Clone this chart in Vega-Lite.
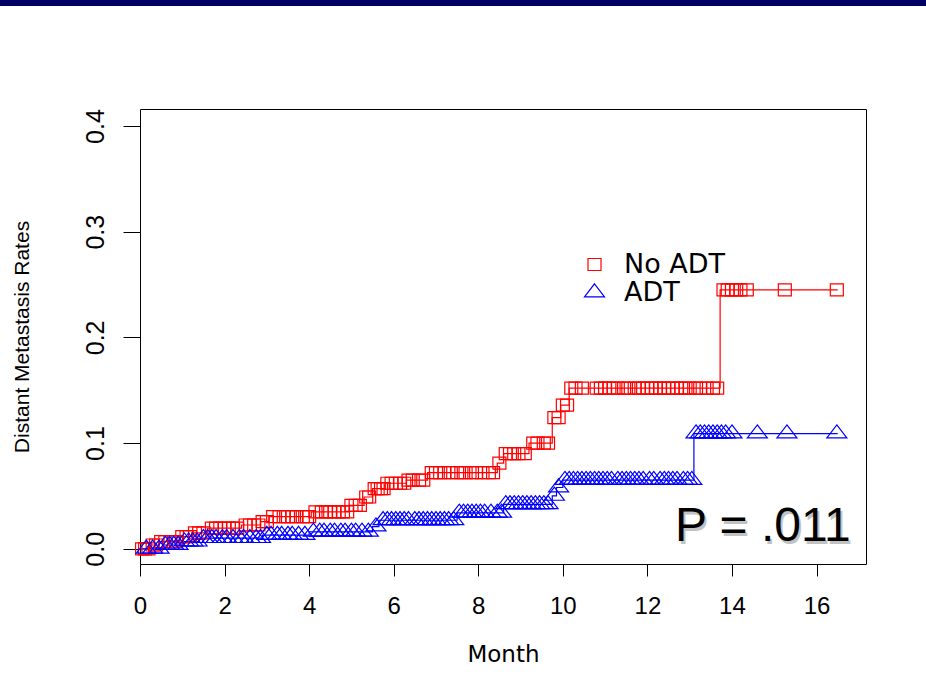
{
  "$schema": "https://vega.github.io/schema/vega-lite/v6.json",
  "width": 726,
  "height": 455,
  "autosize": {"type": "none"},
  "padding": {"left": 140, "top": 109, "right": 60, "bottom": 127},
  "background": "white",
  "config": {
    "view": {"stroke": "#000", "strokeWidth": 1},
    "legend": {"orient": "none", "legendX": 441, "legendY": 143, "padding": 0, "title": null, "labelFont": "DejaVu Sans", "labelFontSize": 27, "labelColor": "#000", "labelOffset": 16, "clipHeight": 25, "rowPadding": 0, "symbolSize": 400, "symbolStrokeWidth": 1.2}
  },
  "datasets": {
    "curve": [
      {"group": "No ADT", "month": 0, "rate": 0},
      {"group": "No ADT", "month": 0.25, "rate": 0.0036},
      {"group": "No ADT", "month": 0.45, "rate": 0.0067},
      {"group": "No ADT", "month": 0.93, "rate": 0.0115},
      {"group": "No ADT", "month": 1.22, "rate": 0.015},
      {"group": "No ADT", "month": 1.6, "rate": 0.0196},
      {"group": "No ADT", "month": 2.4, "rate": 0.0225},
      {"group": "No ADT", "month": 2.85, "rate": 0.0257},
      {"group": "No ADT", "month": 3.05, "rate": 0.0304},
      {"group": "No ADT", "month": 4.05, "rate": 0.035},
      {"group": "No ADT", "month": 4.95, "rate": 0.041},
      {"group": "No ADT", "month": 5.3, "rate": 0.049},
      {"group": "No ADT", "month": 5.5, "rate": 0.057},
      {"group": "No ADT", "month": 5.8, "rate": 0.062},
      {"group": "No ADT", "month": 6.3, "rate": 0.065},
      {"group": "No ADT", "month": 6.8, "rate": 0.072},
      {"group": "No ADT", "month": 8.45, "rate": 0.081},
      {"group": "No ADT", "month": 8.6, "rate": 0.09},
      {"group": "No ADT", "month": 9.2, "rate": 0.1},
      {"group": "No ADT", "month": 9.75, "rate": 0.124},
      {"group": "No ADT", "month": 9.95, "rate": 0.136},
      {"group": "No ADT", "month": 10.15, "rate": 0.152},
      {"group": "No ADT", "month": 13.72, "rate": 0.245},
      {"group": "No ADT", "month": 16.5, "rate": 0.245},
      {"group": "ADT", "month": 0, "rate": 0},
      {"group": "ADT", "month": 0.55, "rate": 0.0036},
      {"group": "ADT", "month": 1.0, "rate": 0.0067},
      {"group": "ADT", "month": 1.4, "rate": 0.010},
      {"group": "ADT", "month": 2.9, "rate": 0.013},
      {"group": "ADT", "month": 4.0, "rate": 0.016},
      {"group": "ADT", "month": 5.5, "rate": 0.021},
      {"group": "ADT", "month": 5.65, "rate": 0.027},
      {"group": "ADT", "month": 7.5, "rate": 0.034},
      {"group": "ADT", "month": 8.6, "rate": 0.042},
      {"group": "ADT", "month": 9.75, "rate": 0.05},
      {"group": "ADT", "month": 9.85, "rate": 0.058},
      {"group": "ADT", "month": 10.0, "rate": 0.065},
      {"group": "ADT", "month": 13.1, "rate": 0.109},
      {"group": "ADT", "month": 16.5, "rate": 0.109}
    ],
    "censor": [
      {"group": "No ADT", "month": 0.05, "rate": 0},
      {"group": "No ADT", "month": 0.12, "rate": 0},
      {"group": "No ADT", "month": 0.2, "rate": 0},
      {"group": "No ADT", "month": 0.3, "rate": 0.0036},
      {"group": "No ADT", "month": 0.38, "rate": 0.0036},
      {"group": "No ADT", "month": 0.5, "rate": 0.0067},
      {"group": "No ADT", "month": 0.6, "rate": 0.0067},
      {"group": "No ADT", "month": 0.72, "rate": 0.0067},
      {"group": "No ADT", "month": 0.85, "rate": 0.0067},
      {"group": "No ADT", "month": 1.0, "rate": 0.0115},
      {"group": "No ADT", "month": 1.1, "rate": 0.0115},
      {"group": "No ADT", "month": 1.18, "rate": 0.0115},
      {"group": "No ADT", "month": 1.3, "rate": 0.015},
      {"group": "No ADT", "month": 1.4, "rate": 0.015},
      {"group": "No ADT", "month": 1.5, "rate": 0.015},
      {"group": "No ADT", "month": 1.7, "rate": 0.0196},
      {"group": "No ADT", "month": 1.8, "rate": 0.0196},
      {"group": "No ADT", "month": 1.9, "rate": 0.0196},
      {"group": "No ADT", "month": 2.0, "rate": 0.0196},
      {"group": "No ADT", "month": 2.1, "rate": 0.0196},
      {"group": "No ADT", "month": 2.2, "rate": 0.0196},
      {"group": "No ADT", "month": 2.3, "rate": 0.0196},
      {"group": "No ADT", "month": 2.5, "rate": 0.0225},
      {"group": "No ADT", "month": 2.6, "rate": 0.0225},
      {"group": "No ADT", "month": 2.7, "rate": 0.0225},
      {"group": "No ADT", "month": 2.8, "rate": 0.0225},
      {"group": "No ADT", "month": 2.9, "rate": 0.0257},
      {"group": "No ADT", "month": 3.0, "rate": 0.0257},
      {"group": "No ADT", "month": 3.15, "rate": 0.0304},
      {"group": "No ADT", "month": 3.3, "rate": 0.0304},
      {"group": "No ADT", "month": 3.4, "rate": 0.0304},
      {"group": "No ADT", "month": 3.5, "rate": 0.0304},
      {"group": "No ADT", "month": 3.6, "rate": 0.0304},
      {"group": "No ADT", "month": 3.7, "rate": 0.0304},
      {"group": "No ADT", "month": 3.85, "rate": 0.0304},
      {"group": "No ADT", "month": 3.95, "rate": 0.0304},
      {"group": "No ADT", "month": 4.0, "rate": 0.0304},
      {"group": "No ADT", "month": 4.15, "rate": 0.035},
      {"group": "No ADT", "month": 4.3, "rate": 0.035},
      {"group": "No ADT", "month": 4.4, "rate": 0.035},
      {"group": "No ADT", "month": 4.5, "rate": 0.035},
      {"group": "No ADT", "month": 4.6, "rate": 0.035},
      {"group": "No ADT", "month": 4.7, "rate": 0.035},
      {"group": "No ADT", "month": 4.8, "rate": 0.035},
      {"group": "No ADT", "month": 4.9, "rate": 0.035},
      {"group": "No ADT", "month": 5.0, "rate": 0.041},
      {"group": "No ADT", "month": 5.1, "rate": 0.041},
      {"group": "No ADT", "month": 5.2, "rate": 0.041},
      {"group": "No ADT", "month": 5.35, "rate": 0.049},
      {"group": "No ADT", "month": 5.42, "rate": 0.049},
      {"group": "No ADT", "month": 5.55, "rate": 0.057},
      {"group": "No ADT", "month": 5.62, "rate": 0.057},
      {"group": "No ADT", "month": 5.7, "rate": 0.057},
      {"group": "No ADT", "month": 5.76, "rate": 0.057},
      {"group": "No ADT", "month": 5.85, "rate": 0.062},
      {"group": "No ADT", "month": 5.95, "rate": 0.062},
      {"group": "No ADT", "month": 6.05, "rate": 0.062},
      {"group": "No ADT", "month": 6.15, "rate": 0.062},
      {"group": "No ADT", "month": 6.25, "rate": 0.062},
      {"group": "No ADT", "month": 6.35, "rate": 0.065},
      {"group": "No ADT", "month": 6.45, "rate": 0.065},
      {"group": "No ADT", "month": 6.6, "rate": 0.065},
      {"group": "No ADT", "month": 6.7, "rate": 0.065},
      {"group": "No ADT", "month": 6.9, "rate": 0.072},
      {"group": "No ADT", "month": 7.0, "rate": 0.072},
      {"group": "No ADT", "month": 7.1, "rate": 0.072},
      {"group": "No ADT", "month": 7.2, "rate": 0.072},
      {"group": "No ADT", "month": 7.35, "rate": 0.072},
      {"group": "No ADT", "month": 7.5, "rate": 0.072},
      {"group": "No ADT", "month": 7.6, "rate": 0.072},
      {"group": "No ADT", "month": 7.7, "rate": 0.072},
      {"group": "No ADT", "month": 7.85, "rate": 0.072},
      {"group": "No ADT", "month": 7.95, "rate": 0.072},
      {"group": "No ADT", "month": 8.1, "rate": 0.072},
      {"group": "No ADT", "month": 8.25, "rate": 0.072},
      {"group": "No ADT", "month": 8.35, "rate": 0.072},
      {"group": "No ADT", "month": 8.5, "rate": 0.081},
      {"group": "No ADT", "month": 8.65, "rate": 0.09},
      {"group": "No ADT", "month": 8.75, "rate": 0.09},
      {"group": "No ADT", "month": 8.85, "rate": 0.09},
      {"group": "No ADT", "month": 8.95, "rate": 0.09},
      {"group": "No ADT", "month": 9.1, "rate": 0.09},
      {"group": "No ADT", "month": 9.3, "rate": 0.1},
      {"group": "No ADT", "month": 9.4, "rate": 0.1},
      {"group": "No ADT", "month": 9.55, "rate": 0.1},
      {"group": "No ADT", "month": 9.65, "rate": 0.1},
      {"group": "No ADT", "month": 9.8, "rate": 0.124},
      {"group": "No ADT", "month": 9.9, "rate": 0.124},
      {"group": "No ADT", "month": 10.0, "rate": 0.136},
      {"group": "No ADT", "month": 10.1, "rate": 0.136},
      {"group": "No ADT", "month": 10.2, "rate": 0.152},
      {"group": "No ADT", "month": 10.3, "rate": 0.152},
      {"group": "No ADT", "month": 10.45, "rate": 0.152},
      {"group": "No ADT", "month": 10.8, "rate": 0.152},
      {"group": "No ADT", "month": 10.9, "rate": 0.152},
      {"group": "No ADT", "month": 11.0, "rate": 0.152},
      {"group": "No ADT", "month": 11.1, "rate": 0.152},
      {"group": "No ADT", "month": 11.2, "rate": 0.152},
      {"group": "No ADT", "month": 11.3, "rate": 0.152},
      {"group": "No ADT", "month": 11.45, "rate": 0.152},
      {"group": "No ADT", "month": 11.55, "rate": 0.152},
      {"group": "No ADT", "month": 11.7, "rate": 0.152},
      {"group": "No ADT", "month": 11.8, "rate": 0.152},
      {"group": "No ADT", "month": 11.9, "rate": 0.152},
      {"group": "No ADT", "month": 12.0, "rate": 0.152},
      {"group": "No ADT", "month": 12.1, "rate": 0.152},
      {"group": "No ADT", "month": 12.2, "rate": 0.152},
      {"group": "No ADT", "month": 12.3, "rate": 0.152},
      {"group": "No ADT", "month": 12.4, "rate": 0.152},
      {"group": "No ADT", "month": 12.5, "rate": 0.152},
      {"group": "No ADT", "month": 12.6, "rate": 0.152},
      {"group": "No ADT", "month": 12.7, "rate": 0.152},
      {"group": "No ADT", "month": 12.8, "rate": 0.152},
      {"group": "No ADT", "month": 12.9, "rate": 0.152},
      {"group": "No ADT", "month": 13.0, "rate": 0.152},
      {"group": "No ADT", "month": 13.15, "rate": 0.152},
      {"group": "No ADT", "month": 13.25, "rate": 0.152},
      {"group": "No ADT", "month": 13.4, "rate": 0.152},
      {"group": "No ADT", "month": 13.55, "rate": 0.152},
      {"group": "No ADT", "month": 13.65, "rate": 0.152},
      {"group": "No ADT", "month": 13.8, "rate": 0.245},
      {"group": "No ADT", "month": 13.9, "rate": 0.245},
      {"group": "No ADT", "month": 14.0, "rate": 0.245},
      {"group": "No ADT", "month": 14.1, "rate": 0.245},
      {"group": "No ADT", "month": 14.2, "rate": 0.245},
      {"group": "No ADT", "month": 14.35, "rate": 0.245},
      {"group": "No ADT", "month": 15.25, "rate": 0.245},
      {"group": "No ADT", "month": 16.48, "rate": 0.245},
      {"group": "ADT", "month": 0.15, "rate": 0},
      {"group": "ADT", "month": 0.3, "rate": 0},
      {"group": "ADT", "month": 0.45, "rate": 0},
      {"group": "ADT", "month": 0.6, "rate": 0.0036},
      {"group": "ADT", "month": 0.7, "rate": 0.0036},
      {"group": "ADT", "month": 0.8, "rate": 0.0036},
      {"group": "ADT", "month": 0.9, "rate": 0.0036},
      {"group": "ADT", "month": 1.05, "rate": 0.0067},
      {"group": "ADT", "month": 1.15, "rate": 0.0067},
      {"group": "ADT", "month": 1.25, "rate": 0.0067},
      {"group": "ADT", "month": 1.35, "rate": 0.0067},
      {"group": "ADT", "month": 1.5, "rate": 0.010},
      {"group": "ADT", "month": 1.6, "rate": 0.010},
      {"group": "ADT", "month": 1.7, "rate": 0.010},
      {"group": "ADT", "month": 1.8, "rate": 0.010},
      {"group": "ADT", "month": 1.95, "rate": 0.010},
      {"group": "ADT", "month": 2.05, "rate": 0.010},
      {"group": "ADT", "month": 2.2, "rate": 0.010},
      {"group": "ADT", "month": 2.35, "rate": 0.010},
      {"group": "ADT", "month": 2.45, "rate": 0.010},
      {"group": "ADT", "month": 2.6, "rate": 0.010},
      {"group": "ADT", "month": 2.75, "rate": 0.010},
      {"group": "ADT", "month": 2.85, "rate": 0.010},
      {"group": "ADT", "month": 3.0, "rate": 0.013},
      {"group": "ADT", "month": 3.1, "rate": 0.013},
      {"group": "ADT", "month": 3.25, "rate": 0.013},
      {"group": "ADT", "month": 3.35, "rate": 0.013},
      {"group": "ADT", "month": 3.5, "rate": 0.013},
      {"group": "ADT", "month": 3.6, "rate": 0.013},
      {"group": "ADT", "month": 3.75, "rate": 0.013},
      {"group": "ADT", "month": 3.9, "rate": 0.013},
      {"group": "ADT", "month": 4.1, "rate": 0.016},
      {"group": "ADT", "month": 4.25, "rate": 0.016},
      {"group": "ADT", "month": 4.35, "rate": 0.016},
      {"group": "ADT", "month": 4.5, "rate": 0.016},
      {"group": "ADT", "month": 4.6, "rate": 0.016},
      {"group": "ADT", "month": 4.75, "rate": 0.016},
      {"group": "ADT", "month": 4.85, "rate": 0.016},
      {"group": "ADT", "month": 5.0, "rate": 0.016},
      {"group": "ADT", "month": 5.1, "rate": 0.016},
      {"group": "ADT", "month": 5.25, "rate": 0.016},
      {"group": "ADT", "month": 5.4, "rate": 0.016},
      {"group": "ADT", "month": 5.58, "rate": 0.021},
      {"group": "ADT", "month": 5.75, "rate": 0.027},
      {"group": "ADT", "month": 5.85, "rate": 0.027},
      {"group": "ADT", "month": 5.95, "rate": 0.027},
      {"group": "ADT", "month": 6.05, "rate": 0.027},
      {"group": "ADT", "month": 6.15, "rate": 0.027},
      {"group": "ADT", "month": 6.25, "rate": 0.027},
      {"group": "ADT", "month": 6.35, "rate": 0.027},
      {"group": "ADT", "month": 6.5, "rate": 0.027},
      {"group": "ADT", "month": 6.6, "rate": 0.027},
      {"group": "ADT", "month": 6.7, "rate": 0.027},
      {"group": "ADT", "month": 6.8, "rate": 0.027},
      {"group": "ADT", "month": 6.9, "rate": 0.027},
      {"group": "ADT", "month": 7.0, "rate": 0.027},
      {"group": "ADT", "month": 7.1, "rate": 0.027},
      {"group": "ADT", "month": 7.2, "rate": 0.027},
      {"group": "ADT", "month": 7.3, "rate": 0.027},
      {"group": "ADT", "month": 7.42, "rate": 0.027},
      {"group": "ADT", "month": 7.55, "rate": 0.034},
      {"group": "ADT", "month": 7.65, "rate": 0.034},
      {"group": "ADT", "month": 7.75, "rate": 0.034},
      {"group": "ADT", "month": 7.85, "rate": 0.034},
      {"group": "ADT", "month": 7.95, "rate": 0.034},
      {"group": "ADT", "month": 8.05, "rate": 0.034},
      {"group": "ADT", "month": 8.15, "rate": 0.034},
      {"group": "ADT", "month": 8.3, "rate": 0.034},
      {"group": "ADT", "month": 8.45, "rate": 0.034},
      {"group": "ADT", "month": 8.55, "rate": 0.034},
      {"group": "ADT", "month": 8.65, "rate": 0.042},
      {"group": "ADT", "month": 8.75, "rate": 0.042},
      {"group": "ADT", "month": 8.85, "rate": 0.042},
      {"group": "ADT", "month": 8.95, "rate": 0.042},
      {"group": "ADT", "month": 9.05, "rate": 0.042},
      {"group": "ADT", "month": 9.15, "rate": 0.042},
      {"group": "ADT", "month": 9.25, "rate": 0.042},
      {"group": "ADT", "month": 9.35, "rate": 0.042},
      {"group": "ADT", "month": 9.45, "rate": 0.042},
      {"group": "ADT", "month": 9.55, "rate": 0.042},
      {"group": "ADT", "month": 9.65, "rate": 0.042},
      {"group": "ADT", "month": 9.8, "rate": 0.05},
      {"group": "ADT", "month": 9.9, "rate": 0.058},
      {"group": "ADT", "month": 10.05, "rate": 0.065},
      {"group": "ADT", "month": 10.15, "rate": 0.065},
      {"group": "ADT", "month": 10.25, "rate": 0.065},
      {"group": "ADT", "month": 10.35, "rate": 0.065},
      {"group": "ADT", "month": 10.45, "rate": 0.065},
      {"group": "ADT", "month": 10.55, "rate": 0.065},
      {"group": "ADT", "month": 10.65, "rate": 0.065},
      {"group": "ADT", "month": 10.75, "rate": 0.065},
      {"group": "ADT", "month": 10.85, "rate": 0.065},
      {"group": "ADT", "month": 10.95, "rate": 0.065},
      {"group": "ADT", "month": 11.05, "rate": 0.065},
      {"group": "ADT", "month": 11.15, "rate": 0.065},
      {"group": "ADT", "month": 11.3, "rate": 0.065},
      {"group": "ADT", "month": 11.4, "rate": 0.065},
      {"group": "ADT", "month": 11.5, "rate": 0.065},
      {"group": "ADT", "month": 11.6, "rate": 0.065},
      {"group": "ADT", "month": 11.7, "rate": 0.065},
      {"group": "ADT", "month": 11.8, "rate": 0.065},
      {"group": "ADT", "month": 11.9, "rate": 0.065},
      {"group": "ADT", "month": 12.05, "rate": 0.065},
      {"group": "ADT", "month": 12.15, "rate": 0.065},
      {"group": "ADT", "month": 12.3, "rate": 0.065},
      {"group": "ADT", "month": 12.4, "rate": 0.065},
      {"group": "ADT", "month": 12.5, "rate": 0.065},
      {"group": "ADT", "month": 12.6, "rate": 0.065},
      {"group": "ADT", "month": 12.7, "rate": 0.065},
      {"group": "ADT", "month": 12.85, "rate": 0.065},
      {"group": "ADT", "month": 12.95, "rate": 0.065},
      {"group": "ADT", "month": 13.05, "rate": 0.065},
      {"group": "ADT", "month": 13.15, "rate": 0.109},
      {"group": "ADT", "month": 13.25, "rate": 0.109},
      {"group": "ADT", "month": 13.35, "rate": 0.109},
      {"group": "ADT", "month": 13.45, "rate": 0.109},
      {"group": "ADT", "month": 13.55, "rate": 0.109},
      {"group": "ADT", "month": 13.65, "rate": 0.109},
      {"group": "ADT", "month": 13.75, "rate": 0.109},
      {"group": "ADT", "month": 13.85, "rate": 0.109},
      {"group": "ADT", "month": 14.0, "rate": 0.109},
      {"group": "ADT", "month": 14.6, "rate": 0.109},
      {"group": "ADT", "month": 15.3, "rate": 0.109},
      {"group": "ADT", "month": 16.48, "rate": 0.109}
    ],
    "annotation": [
      {"label": "P = .011", "month": 16.81, "rate": 0.0075}
    ],
    "banner": [
      {"month": -5, "month2": 20, "rate": 0.5136, "rate2": 0.6}
    ]
  },
  "layer": [
    {
      "data": {"name": "curve"},
      "mark": {"type": "line", "interpolate": "step-after", "strokeWidth": 1.2},
      "encoding": {
        "x": {
          "field": "month", "type": "quantitative",
          "scale": {"domain": [0, 17.17], "nice": false, "zero": false},
          "axis": {
            "values": [0, 2, 4, 6, 8, 10, 12, 14, 16], "grid": false, "domain": false,
            "tickSize": 12, "tickColor": "#000", "labelFont": "Liberation Sans", "labelFontSize": 24,
            "labelColor": "#000", "labelPadding": 18, "labelFlush": false,
            "title": "Month", "titleFont": "DejaVu Sans", "titleFontSize": 23, "titleFontWeight": "normal",
            "titleColor": "#000", "titlePadding": 25
          }
        },
        "y": {
          "field": "rate", "type": "quantitative",
          "scale": {"domain": [-0.0144, 0.4161], "nice": false, "zero": false},
          "axis": {
            "values": [0, 0.1, 0.2, 0.3, 0.4], "format": ".1f", "grid": false, "domain": false,
            "tickSize": 17, "tickColor": "#000", "labelFont": "Liberation Sans", "labelFontSize": 25,
            "labelColor": "#000", "labelAngle": -90, "labelAlign": "center", "labelBaseline": "bottom", "labelPadding": 15,
            "title": "Distant Metastasis Rates", "titleFont": "Liberation Sans", "titleFontSize": 21,
            "titleFontWeight": "normal", "titleColor": "#000", "titlePadding": 51
          }
        },
        "color": {"field": "group", "type": "nominal", "scale": {"domain": ["No ADT", "ADT"], "range": ["#ff0000", "#0000ff"]}}
      }
    },
    {
      "data": {"name": "censor"},
      "mark": {"type": "point", "filled": false, "strokeWidth": 1.2, "size": 400, "opacity": 1},
      "encoding": {
        "x": {"field": "month", "type": "quantitative"},
        "y": {"field": "rate", "type": "quantitative"},
        "color": {"field": "group", "type": "nominal", "scale": {"domain": ["No ADT", "ADT"], "range": ["#ff0000", "#0000ff"]}},
        "shape": {"field": "group", "type": "nominal", "scale": {"domain": ["No ADT", "ADT"], "range": ["M-0.65,-0.6L0.65,-0.6L0.65,0.6L-0.65,0.6Z", "M0,-0.87L1,0.43L-1,0.43Z"]}}
      }
    },
    {
      "data": {"name": "banner"},
      "mark": {"type": "rect", "color": "#000066", "clip": false},
      "encoding": {
        "x": {"field": "month", "type": "quantitative"},
        "x2": {"field": "month2"},
        "y": {"field": "rate", "type": "quantitative"},
        "y2": {"field": "rate2"}
      }
    },
    {
      "data": {"name": "annotation"},
      "mark": {"type": "text", "font": "Liberation Sans", "fontSize": 48, "align": "right", "baseline": "alphabetic", "color": "#b4b4b4", "opacity": 0.8, "dx": 2, "dy": 3},
      "encoding": {
        "x": {"field": "month", "type": "quantitative"},
        "y": {"field": "rate", "type": "quantitative"},
        "text": {"field": "label"}
      }
    },
    {
      "data": {"name": "annotation"},
      "mark": {"type": "text", "font": "Liberation Sans", "fontSize": 48, "align": "right", "baseline": "alphabetic", "color": "#000"},
      "encoding": {
        "x": {"field": "month", "type": "quantitative"},
        "y": {"field": "rate", "type": "quantitative"},
        "text": {"field": "label"}
      }
    }
  ]
}
